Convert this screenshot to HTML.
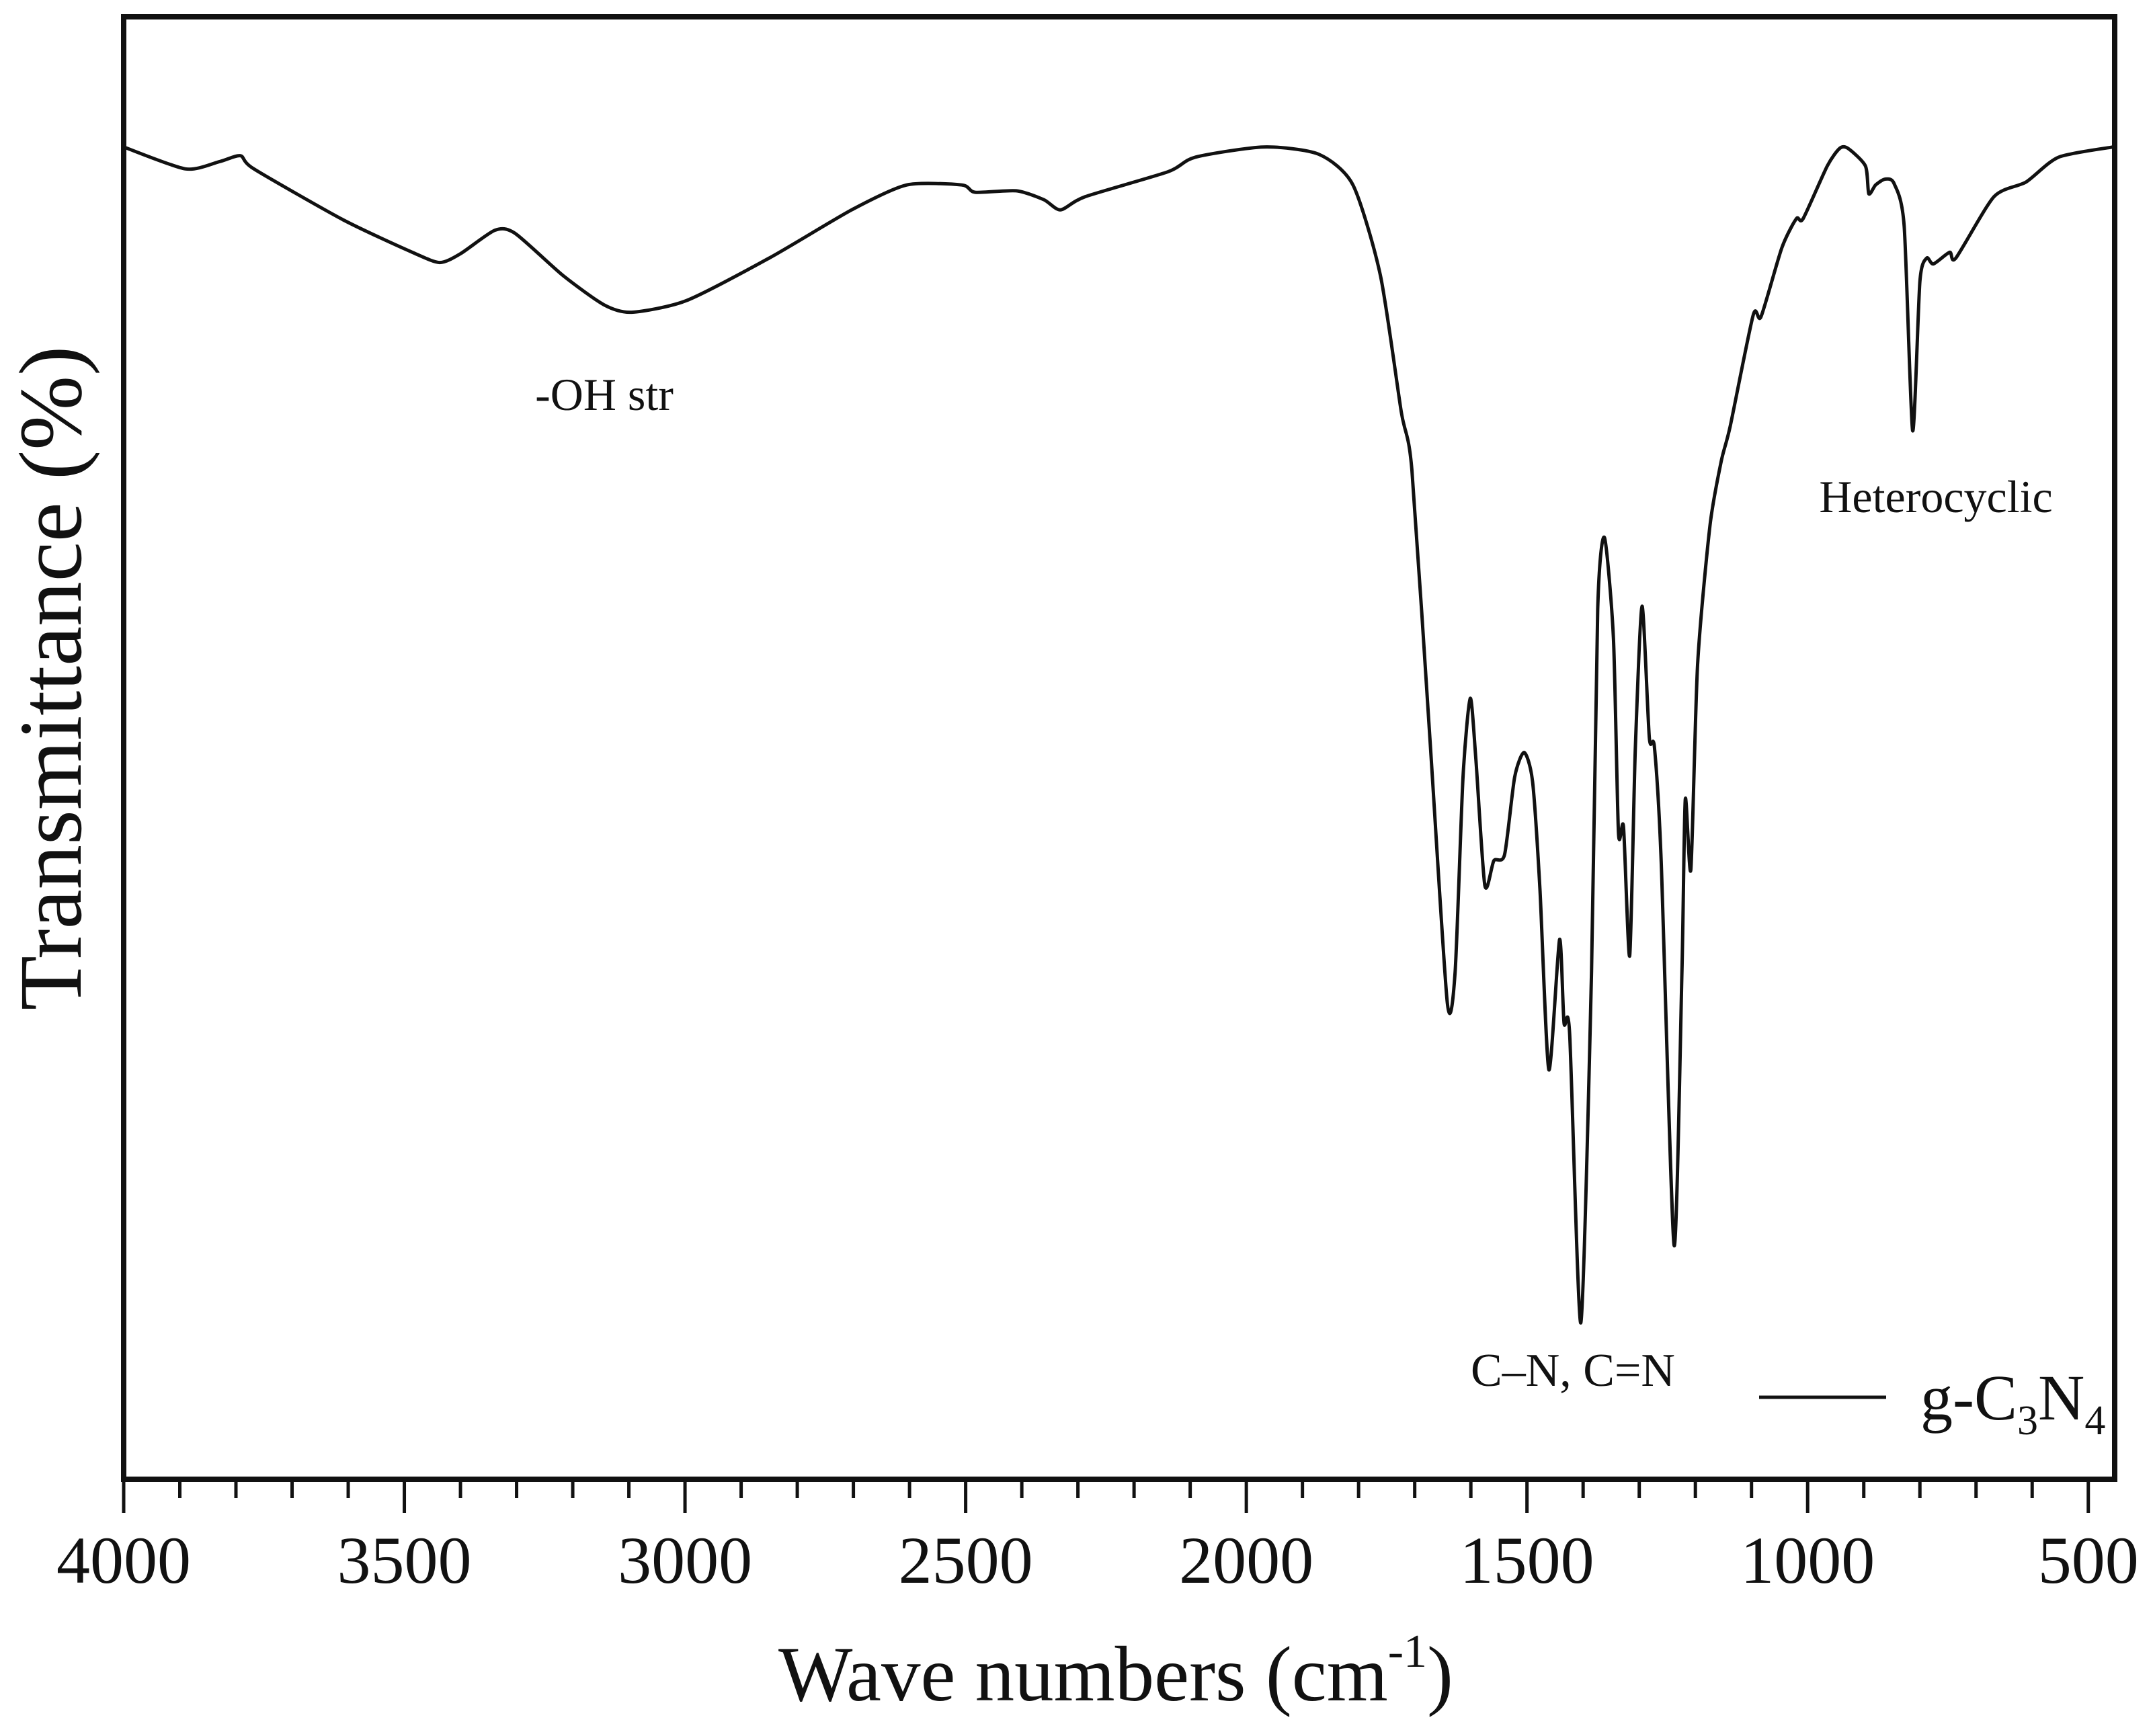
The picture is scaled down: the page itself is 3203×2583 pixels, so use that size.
<!DOCTYPE html>
<html>
<head>
<meta charset="utf-8">
<style>
  html, body { margin: 0; padding: 0; background: #fff; }
  svg { display: block; }
  text { font-family: "Liberation Serif", "DejaVu Serif", serif; fill: #111; }
</style>
</head>
<body>
<svg id="chart" width="3203" height="2583" viewBox="0 0 3203 2583" xmlns="http://www.w3.org/2000/svg">
  <g id="ticks"></g>
  <g id="ticklabels"></g>
  <path id="series" fill="none" stroke="#111" stroke-width="5" stroke-linejoin="round" stroke-linecap="round"></path>
  <rect x="184" y="25" width="2962" height="2176" fill="none" stroke="#111" stroke-width="8"></rect>
  <text x="1660" y="2530" font-size="117" text-anchor="middle">Wave numbers (cm<tspan font-size="70" dy="-50">-1</tspan><tspan dy="50">)</tspan></text>
  <text x="0" y="0" font-size="133" text-anchor="middle" transform="translate(120,1009) rotate(-90)">Transmittance (%)</text>
  <text x="899" y="610" font-size="68" text-anchor="middle">-OH str</text>
  <text x="2340" y="2062" font-size="70" text-anchor="middle">C–N, C=N</text>
  <text x="2880" y="762" font-size="68" text-anchor="middle">Heterocyclic</text>
  <g>
    <line x1="2617" y1="2079" x2="2806" y2="2079" stroke="#111" stroke-width="5"></line>
    <text x="2857" y="2112" font-size="96">g-C<tspan font-size="62" dy="22">3</tspan><tspan dy="-22">N</tspan><tspan font-size="62" dy="22">4</tspan></text>
  </g>
</svg>
<script>
const wavenumbers = [4000,3890,3829,3792,3768,3608,3486,3437,3400,3339,3303,3217,3144,3095,2997,2850,2703,2605,2507,2483,2410,2361,2331,2287,2140,2091,1969,1871,1810,1761,1724,1705,1673,1642,1628,1614,1601,1591,1575,1559,1540,1522,1505,1490,1477,1461,1442,1434,1424,1404,1385,1374,1362,1346,1337,1328,1317,1307,1295,1282,1273,1261,1238,1224,1218,1208,1196,1174,1154,1138,1097,1083,1046,1020,1008,965,943,928,897,891,879,862,846,828,813,800,788,776,747,736,668,611,553,456];
const transmittance = [91.1,89.6,90.1,90.5,89.6,86.1,83.9,83.2,83.8,85.4,85.2,82.3,80.3,79.8,80.6,83.5,86.8,88.5,88.5,88.0,88.1,87.5,86.8,87.7,89.4,90.4,91.1,90.6,88.5,82.3,73.0,69.0,50.7,32.6,34.7,48.0,53.4,49.2,40.6,42.3,42.7,48.0,49.7,47.7,40.4,28.0,36.9,31.2,30.5,10.7,34.7,59.5,64.4,57.5,44.2,44.6,35.8,49.9,59.7,50.7,50.1,42.3,16.0,34.7,46.5,41.7,55.7,65.2,69.6,72.0,79.6,79.5,84.2,86.2,86.2,89.8,91.0,91.0,89.8,87.9,88.5,88.9,88.6,85.7,71.7,81.9,83.5,83.1,83.9,83.5,87.7,88.7,90.4,91.1];
const tickValues = [4000,3500,3000,2500,2000,1500,1000,500];
const tickLabels = ["4000","3500","3000","2500","2000","1500","1000","500"];
const xDomain = [4000, 453];
const yDomain = [0, 100];

const plot = {left:184, right:3146, top:25, bottom:2201};
function xScale(w){ return plot.left + (xDomain[0]-w)/(xDomain[0]-xDomain[1])*(plot.right-plot.left); }
function yScale(t){ return plot.bottom - (t-yDomain[0])/(yDomain[1]-yDomain[0])*(plot.bottom-plot.top); }

const NS = "http://www.w3.org/2000/svg";
const pts = wavenumbers.map((w,i)=>[xScale(w), yScale(transmittance[i])]);
let d = "M" + pts[0][0].toFixed(1) + " " + pts[0][1].toFixed(1);
const k = 0.12;
for (let i=0;i<pts.length-1;i++){
  const p0 = pts[Math.max(0,i-1)], p1 = pts[i], p2 = pts[i+1], p3 = pts[Math.min(pts.length-1,i+2)];
  const c1 = [p1[0]+(p2[0]-p0[0])*k, p1[1]+(p2[1]-p0[1])*k];
  const c2 = [p2[0]-(p3[0]-p1[0])*k, p2[1]-(p3[1]-p1[1])*k];
  d += " C" + c1[0].toFixed(1)+" "+c1[1].toFixed(1)+" "+c2[0].toFixed(1)+" "+c2[1].toFixed(1)+" "+p2[0].toFixed(1)+" "+p2[1].toFixed(1);
}
document.getElementById('series').setAttribute('d', d);

const tg = document.getElementById('ticks');
for (let w=4000; w>=500; w-=100){
  const major = (w % 500 === 0);
  const ln = document.createElementNS(NS,'line');
  
  
  ln.setAttribute('x1', xScale(w)); ln.setAttribute('x2', xScale(w));
  ln.setAttribute('y1', plot.bottom); ln.setAttribute('y2', plot.bottom + (major?50:28));
  ln.setAttribute('stroke','#111'); ln.setAttribute('stroke-width','5');
  tg.appendChild(ln);
}
const lg = document.getElementById('ticklabels');
tickValues.forEach((v,i)=>{
  const t = document.createElementNS(NS,'text');
  
  
  t.setAttribute('x', xScale(v)); t.setAttribute('y', 2355);
  t.setAttribute('font-size','100'); t.setAttribute('text-anchor','middle');
  t.textContent = tickLabels[i];
  lg.appendChild(t);
});
</script>
</body>
</html>
